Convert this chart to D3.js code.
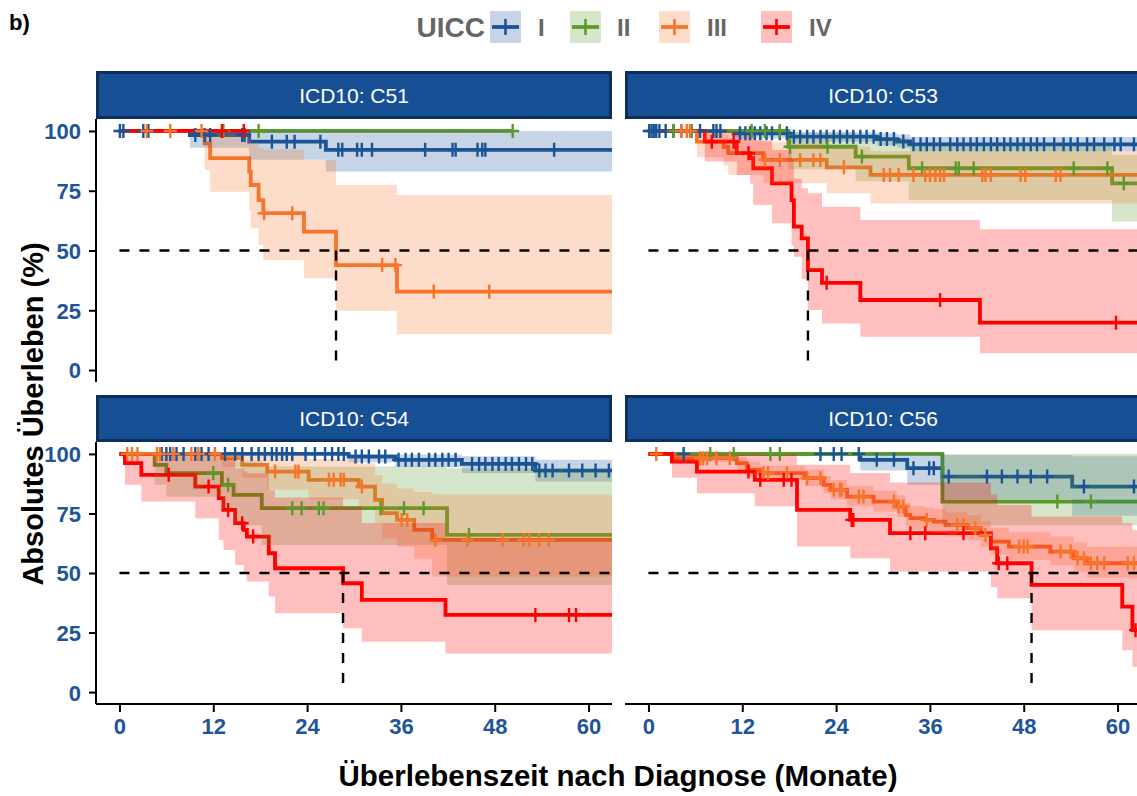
<!DOCTYPE html>
<html><head><meta charset="utf-8">
<script src="https://cdn.jsdelivr.net/npm/d3@7"></script>
<style>body{margin:0;background:#fff}svg{display:block;font-family:"Liberation Sans",Arial,Helvetica,sans-serif}</style>
</head><body>
<svg id="c" width="1137" height="796"></svg>
<script>
// ---------------- DATA ----------------
const strata = ["I", "II", "III", "IV"];
const panelTitles = ["ICD10: C51", "ICD10: C53", "ICD10: C54", "ICD10: C56"];
const xTicks = [0, 12, 24, 36, 48, 60];
const yTicks = [0, 25, 50, 75, 100];
const medians = [27.7, 20.4, 28.6, 49.0];

// steps: [time, survival %, lower CI, upper CI]
// C51
const c51_I = [[0,100,100,100],[9.0,98.3,93,100],[16.6,95.5,88,100],[26.4,92.1,83,100]];
const c51_I_cens = [0.06,0.5,3.05,3.7,9.7,10.9,11.6,15.7,16.0,19.5,21.4,22.4,25.7,28.0,28.5,30.4,31.0,32.3,39.1,42.6,43.0,45.8,46.4,46.8,55.6];
const c51_I_end = 63;
const c51_II = [[0,100,100,100]];
const c51_II_cens = [13.3,17.8,50.3];
const c51_II_end = 50.3;
const c51_III = [[0,100,100,100],[10.9,94.8,83.7,100],[11.6,88.6,74.6,99],[16.6,83.0,66.9,97],[16.8,77.4,59.3,95],[17.8,71.1,52.3,93],[18.4,65.6,46.0,92.1],[23.6,57.9,38.4,87.9],[27.7,43.9,24.8,77.4],[35.5,32.8,15.1,73.2]];
const c51_III_cens = [3.5,6.5,10.5,18.5,22.1,33.6,35.3,40.2,47.3];
const c51_III_end = 63;
const c51_IV = [[0,100,100,100]];
const c51_IV_cens = [13.1,15.9];
const c51_IV_end = 16.2;

// C53
const c53_I = [[0,100,100,100],[10.9,99.0,97,100],[18.1,97.6,95.5,99.5],[29.2,96.6,94,99],[31.8,95.6,93,98.5],[33.5,94.4,91.5,97.5]];
const c53_I_cens = [0.1,0.4,0.7,1.0,1.4,2.2,3.2,4.2,5.5,6.6,8.3,8.7,9.2,11.7,12.4,13.0,13.6,14.3,15.1,15.8,16.8,17.7,18.6,19.4,20.3,21.1,22.0,22.8,23.7,24.5,25.4,26.2,27.1,27.9,28.8,29.7,30.5,31.4,32.6,33.9,34.8,35.6,36.5,37.3,38.6,39.5,40.3,41.2,42.0,42.9,43.8,44.6,45.5,46.3,47.2,48.0,48.9,49.7,50.6,51.9,53.1,54.0,54.9,56.1,57.0,58.3,59.6,60.4,62.1];
const c53_I_end = 63;
const c53_II = [[0,100,100,100],[17.9,93.4,84,99.5],[26.5,89.3,79,97],[33.3,84.4,71.1,94],[59.3,78.1,62.1,90]];
const c53_II_cens = [3.2,5.5,13.2,14.9,16.8,18.1,22.9,27.3,35.0,39.3,39.7,41.6,54.4,58.7,60.8];
const c53_II_end = 63;
const c53_III = [[0,100,100,100],[6.2,95.5,89,99.5],[9.6,93.4,85.5,98.5],[10.2,90.7,81.6,97],[14.7,87.9,78.1,95.5],[22.8,84.8,73.9,93.5],[28.4,81.6,69.7,91.5]];
const c53_III_cens = [4.2,4.9,5.3,14.9,16.8,19.4,21.1,22.0,25.0,30.1,30.9,32.0,33.9,35.4,36.0,36.7,37.3,37.8,42.7,43.1,43.8,47.6,48.2,52.1,52.7];
const c53_III_end = 63;
const c53_IV = [[0,100,100,100],[7.2,95.5,87.2,100],[11.3,90.7,81.6,99],[13.0,88.6,78,98],[13.4,84.4,69.0,96],[15.8,78.1,61.4,92],[18.3,71.1,52,88],[18.6,60.0,47.4,80],[19.6,55.1,38,76],[20.4,41.8,25.1,73.9],[22.2,36.5,19.5,68.3],[27.1,29.3,13.9,62.8],[42.4,19.8,7.0,58.9]];
const c53_IV_cens = [8.1,10.9,12.8,22.8,37.3,59.8];
const c53_IV_end = 63;

// C54
const c54_I = [[0,100,100,100],[29.3,98.9,96.5,100],[35.3,97.5,94.5,99.8],[43.8,95.8,92,99],[53.2,93.0,88.4,97.5]];
const c54_I_cens = [5.4,6.0,6.5,7.3,8.2,9.7,10.5,11.4,13.5,14.8,15.7,16.9,17.8,18.6,19.5,20.1,20.8,21.4,22.1,23.8,25.0,26.3,27.2,28.0,28.7,30.2,31.0,31.9,33.2,34.0,35.7,36.6,37.4,38.3,39.6,40.4,41.3,42.1,43.0,45.1,46.0,46.8,47.7,48.5,49.4,50.2,51.1,52.0,52.8,53.7,54.5,55.4,57.5,59.2,60.9,62.6];
const c54_I_end = 63;
const c54_II = [[0,100,100,100],[4.5,95.4,87,100],[6.0,91.9,82,100],[13.1,87.0,75.5,99],[14.6,82.8,70,97],[18.2,77.2,61.8,94.7],[41.9,66.0,45.0,94]];
const c54_II_cens = [12.0,13.9,22.1,23.3,25.5,26.1,33.4,36.4,38.9,44.7];
const c54_II_end = 63;
const c54_III = [[0,100,100,100],[13.1,98.2,94.5,100],[15.7,95.4,90,100],[18.9,92.6,85,99.7],[24.2,89.1,81,98],[30.6,86.3,77.5,96],[32.7,80.7,71,91],[33.6,75.1,64.5,87.5],[35.5,72.3,61,85.5],[37.7,68.1,56,84],[40.0,63.9,48.5,83]];
const c54_III_cens = [1.0,1.6,2.3,4.8,5.2,6.9,9.2,10.1,12.2,19.9,22.5,22.9,26.8,27.4,28.3,28.7,31.0,36.1,36.8,40.4,44.5,49.0,51.7,52.4,53.7,54.9];
const c54_III_end = 63;
const c54_IV = [[0,100,100,100],[0.7,96.1,87.0,100],[2.8,91.2,80.0,100],[9.7,86.3,73.0,100],[12.7,81.4,63.9,100],[13.3,76.5,59.7,98],[14.8,70.9,53.4,94],[15.9,68.1,50,92.7],[16.3,65.3,46.4,91.9],[19.1,58.3,40.1,84.7],[19.9,52.0,33.1,81.7],[28.6,45.7,26.8,78],[31.0,38.7,21.1,71],[41.7,32.4,16.2,64.8]];
const c54_IV_cens = [6.3,11.4,13.9,15.7,17.1,53.2,57.5,58.4];
const c54_IV_end = 63;

// C56
const c56_I = [[0,100,100,100],[27.1,97.5,93,100],[33.1,94.0,87,100],[37.6,90.5,81,99.5],[54.2,86.3,74,99]];
const c56_I_cens = [4.5,22.0,23.7,24.7,26.9,29.2,31.4,33.9,35.9,36.5,38.4,43.3,45.2,47.2,48.9,51.0,55.7,62.1];
const c56_I_end = 63;
const c56_II = [[0,100,100,100],[37.6,80.0,70,100]];
const c56_II_cens = [7.9,10.9,15.6,16.8,52.3,56.6];
const c56_II_end = 63;
const c56_III = [[0,100,100,100],[3.2,98.2,96.5,99.9],[11.3,96.1,93.5,98.8],[12.6,93.3,90.5,96.5],[14.3,91.9,89,95],[20.0,89.8,86.5,93.3],[22.4,87.0,83.5,90.7],[23.3,84.9,81,89],[25.4,82.1,78,86.5],[28.8,80.0,75.8,84.5],[31.8,77.9,73.5,82.5],[32.9,74.4,69.8,79.3],[33.5,73.0,68.3,78],[35.4,72.3,67.5,77.4],[36.5,71.6,66.8,76.8],[38.0,70.2,65.3,75.5],[40.8,68.8,63.8,74.2],[42.5,66.0,60.8,71.6],[43.8,63.2,57.8,69],[46.1,61.1,55.6,67.1],[51.4,59.0,53.3,65.3],[54.4,56.2,50.3,62.8],[56.1,54.1,48.0,61.0]];
const c56_III_cens = [1.0,6.6,7.0,7.5,8.7,10.4,14.7,15.3,17.7,20.3,22.0,23.7,24.5,24.7,26.9,27.5,31.4,32.0,32.6,35.6,39.5,40.3,41.8,43.1,47.4,48.0,48.5,52.7,54.0,54.9,55.7,56.6,57.4,58.3,61.3,62.1];
const c56_III_end = 63;
const c56_IV = [[0,100,100,100],[3.0,96.8,90,100],[6.2,92.6,83.5,100],[13.6,89.1,78,100],[19.0,76.5,61.1,95.5],[25.8,72.3,56.2,92],[30.9,66.7,50.6,88],[43.8,60.4,44,83],[44.6,54.1,39.4,78.6],[49.0,45.0,26.0,73.7],[60.6,35.9,17.6,70.9],[61.9,26.0,10.6,68]];
const c56_IV_cens = [12.8,14.3,17.3,18.3,26.0,26.2,33.5,35.4,40.3,44.8,45.9,62.3];
const c56_IV_end = 62.6;

// ---------------- BUILD ----------------
const panelData = [
  {steps:[c51_I,c51_II,c51_III,c51_IV], cens:[c51_I_cens,c51_II_cens,c51_III_cens,c51_IV_cens], ends:[c51_I_end,c51_II_end,c51_III_end,c51_IV_end]},
  {steps:[c53_I,c53_II,c53_III,c53_IV], cens:[c53_I_cens,c53_II_cens,c53_III_cens,c53_IV_cens], ends:[c53_I_end,c53_II_end,c53_III_end,c53_IV_end]},
  {steps:[c54_I,c54_II,c54_III,c54_IV], cens:[c54_I_cens,c54_II_cens,c54_III_cens,c54_IV_cens], ends:[c54_I_end,c54_II_end,c54_III_end,c54_IV_end]},
  {steps:[c56_I,c56_II,c56_III,c56_IV], cens:[c56_I_cens,c56_II_cens,c56_III_cens,c56_IV_cens], ends:[c56_I_end,c56_II_end,c56_III_end,c56_IV_end]}
];

const colors = ["#1a5497", "#5b9a2a", "#f7752a", "#ff0000"];
const tickColor = "#1d5598";
const stripFill = "#174f94", stripStroke = "#0c2f5c";

const svg = d3.select("#c");
const PW = 516;
const cols = [96, 625];
const rows = [{y0:119, h:263, sy:71, sh:48}, {y0:442, h:262, sy:395, sh:47}];

const x = d3.scaleLinear().domain([-3, 63]).range([0, PW]);

const defs = svg.append("defs");

panelData.forEach((pd, pi) => {
  const col = pi % 2, row = Math.floor(pi / 2);
  const x0 = cols[col], r = rows[row];
  const y = d3.scaleLinear().domain([-5, 105]).range([r.h, 0]);

  // strip
  svg.append("rect").attr("x", x0 + 1.5).attr("y", r.sy + 1.5)
    .attr("width", PW - 3).attr("height", r.sh - 3)
    .attr("fill", stripFill).attr("stroke", stripStroke).attr("stroke-width", 3);
  svg.append("text").attr("x", x0 + PW / 2).attr("y", r.sy + r.sh / 2 + 7.5)
    .attr("text-anchor", "middle").attr("fill", "#fff").attr("font-size", 21)
    .text(panelTitles[pi]);

  defs.append("clipPath").attr("id", "clip" + pi).append("rect")
    .attr("x", 0).attr("y", 0).attr("width", PW).attr("height", r.h);

  const g = svg.append("g").attr("transform", `translate(${x0},${r.y0})`);
  const gc = g.append("g").attr("clip-path", `url(#clip${pi})`);

  const pts = (steps, end) => steps.concat([[end, steps[steps.length - 1][1], steps[steps.length - 1][2], steps[steps.length - 1][3]]]);
  const line = d3.line().curve(d3.curveStepAfter).x(d => x(d[0])).y(d => y(d[1]));
  const area = d3.area().curve(d3.curveStepAfter).x(d => x(d[0])).y0(d => y(d[2])).y1(d => y(d[3]));

  // lines
  pd.steps.forEach((st, si) => {
    gc.append("path").attr("d", line(pts(st, pd.ends[si])))
      .attr("fill", "none").attr("stroke", colors[si]).attr("stroke-width", 3.8);
  });
  // ribbons
  pd.steps.forEach((st, si) => {
    gc.append("path").attr("d", area(pts(st, pd.ends[si])))
      .attr("fill", colors[si]).attr("fill-opacity", 0.25).attr("stroke", "none");
  });
  // censor marks
  const bis = d3.bisector(d => d[0]).right;
  pd.cens.forEach((cs, si) => {
    const st = pd.steps[si];
    cs.forEach(t => {
      const s = st[Math.max(0, bis(st, t) - 1)][1];
      const cx = x(t), cy = y(s);
      gc.append("path").attr("d", `M${cx - 6.5},${cy}H${cx + 6.5}M${cx},${cy - 7}V${cy + 7}`)
        .attr("stroke", colors[si]).attr("stroke-width", 2.4).attr("fill", "none");
    });
  });
  // median lines
  gc.append("line").attr("x1", x(0)).attr("x2", x(63)).attr("y1", y(50)).attr("y2", y(50))
    .attr("stroke", "#000").attr("stroke-width", 2.4).attr("stroke-dasharray", "10,10");
  gc.append("line").attr("x1", x(medians[pi])).attr("x2", x(medians[pi])).attr("y1", y(50)).attr("y2", y(0))
    .attr("stroke", "#000").attr("stroke-width", 2.4).attr("stroke-dasharray", "10,10");

  // axes
  if (col === 0) {
    const ax = g.append("g").call(d3.axisLeft(y).tickValues(yTicks).tickSize(7).tickPadding(8));
    ax.select(".domain").attr("stroke", "#000").attr("stroke-width", 2).attr("d", `M0,0V${r.h}`);
    ax.selectAll(".tick line").attr("stroke", "#000").attr("stroke-width", 2);
    ax.selectAll(".tick text").attr("fill", tickColor).attr("font-size", 22).attr("font-weight", "bold")
      .attr("font-family", '"Liberation Sans",Arial,sans-serif').attr("dy", "0.36em");
  }
  if (row === 1) {
    const ax = g.append("g").attr("transform", `translate(0,${r.h})`)
      .call(d3.axisBottom(x).tickValues(xTicks).tickSize(8).tickPadding(6));
    ax.select(".domain").attr("stroke", "#000").attr("stroke-width", 2).attr("d", `M0,0H${PW}`);
    ax.selectAll(".tick line").attr("stroke", "#000").attr("stroke-width", 2);
    ax.selectAll(".tick text").attr("fill", tickColor).attr("font-size", 22).attr("font-weight", "bold")
      .attr("font-family", '"Liberation Sans",Arial,sans-serif');
  }
});

// axis titles
svg.append("text").attr("x", 618).attr("y", 786).attr("text-anchor", "middle")
  .attr("font-size", 29.5).attr("font-weight", "bold").attr("fill", "#000")
  .text("Überlebenszeit nach Diagnose (Monate)");
svg.append("text").attr("transform", "translate(43,414) rotate(-90)").attr("text-anchor", "middle")
  .attr("font-size", 29).attr("font-weight", "bold").attr("fill", "#000")
  .text("Absolutes Überleben (%)");

// panel tag
svg.append("text").attr("x", 9).attr("y", 30).attr("font-size", 22).attr("font-weight", "bold")
  .attr("fill", "#000").text("b)");

// legend
const lg = svg.append("g");
lg.append("text").attr("x", 485).attr("y", 37).attr("text-anchor", "end")
  .attr("font-size", 28).attr("font-weight", "bold").attr("fill", "#666").text("UICC");
const keyX = [490, 570, 659, 761];
const labX = [538, 617, 707, 809];
strata.forEach((s, i) => {
  const kx = keyX[i], cy = 27;
  lg.append("rect").attr("x", kx).attr("y", cy - 16).attr("width", 31).attr("height", 32)
    .attr("fill", colors[i]).attr("fill-opacity", 0.25);
  lg.append("path").attr("d", `M${kx + 2},${cy}H${kx + 29}`).attr("stroke", colors[i]).attr("stroke-width", 3.8);
  lg.append("path").attr("d", `M${kx + 15.5},${cy - 8}V${cy + 8}`).attr("stroke", colors[i]).attr("stroke-width", 2.6);
  lg.append("text").attr("x", labX[i]).attr("y", cy + 9).attr("font-size", 24).attr("font-weight", "bold")
    .attr("fill", "#666").text(s);
});
</script>
</body></html>
